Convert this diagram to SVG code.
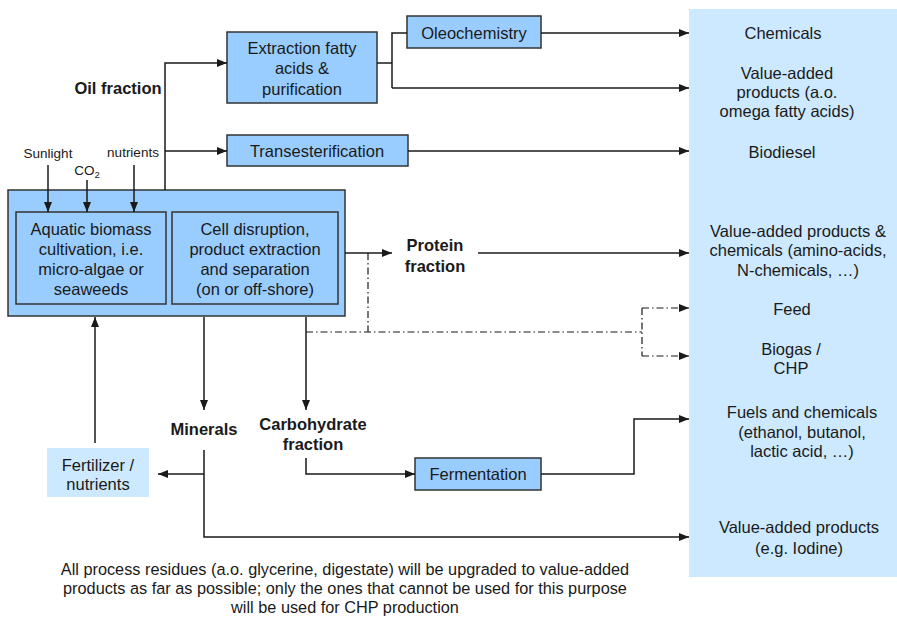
<svg xmlns="http://www.w3.org/2000/svg" width="897" height="618" viewBox="0 0 897 618">
  <style>
    text { font-family: "Liberation Sans", Arial, sans-serif; fill: #1a1a1a; text-anchor: middle; }
    .box { fill: #99ccff; stroke: #333; stroke-width: 1.5; }
    .soft { fill: #cce9ff; stroke: none; }
    .t16 { font-size: 16.5px; }
    .b16 { font-size: 16.5px; font-weight: bold; }
    .t13 { font-size: 13.5px; }
    .t15 { font-size: 16.3px; }
    .ln { fill: none; stroke: #1a1a1a; stroke-width: 1.5; }
    .arr { marker-end: url(#ah); }
    .dd { stroke-dasharray: 7 3 1.5 3; stroke-width: 1.2; }
  </style>
  <defs>
    <marker id="ah" viewBox="0 0 10 8" refX="10" refY="4" markerWidth="10" markerHeight="8" markerUnits="userSpaceOnUse" orient="auto">
      <path d="M0,0 L10,4 L0,8 Z" fill="#1a1a1a"/>
    </marker>
  </defs>

  <!-- product panel -->
  <g id="products">
    <rect class="soft" x="689" y="9" width="208" height="568"/>
    <text class="t16" x="783" y="38.5">Chemicals</text>
    <text class="t16" x="787" y="78.5">Value-added</text>
    <text class="t16" x="787" y="97.5">products (a.o.</text>
    <text class="t16" x="787" y="116.5">omega fatty acids)</text>
    <text class="t16" x="782" y="157.5">Biodiesel</text>
    <text class="t16" x="798" y="236.5">Value-added products &amp;</text>
    <text class="t16" x="798" y="255.5">chemicals (amino-acids,</text>
    <text class="t16" x="798" y="275.5">N-chemicals, …)</text>
    <text class="t16" x="792" y="314.5">Feed</text>
    <text class="t16" x="791" y="354.5">Biogas /</text>
    <text class="t16" x="791" y="373.5">CHP</text>
    <text class="t16" x="802" y="417.5">Fuels and chemicals</text>
    <text class="t16" x="802" y="437.5">(ethanol, butanol,</text>
    <text class="t16" x="802" y="456.5">lactic acid, …)</text>
    <text class="t16" x="799" y="532.5">Value-added products</text>
    <text class="t16" x="799" y="553.5">(e.g. Iodine)</text>
  </g>

  <g id="plant">
    <rect class="box" x="8" y="190" width="337" height="126"/>
  </g>
  <g id="cultivation">
    <rect class="box" x="16" y="212" width="150" height="92"/>
    <text class="t16" x="91" y="234.5">Aquatic biomass</text>
    <text class="t16" x="91" y="254.5">cultivation, i.e.</text>
    <text class="t16" x="91" y="274.5">micro-algae or</text>
    <text class="t16" x="91" y="294.5">seaweeds</text>
  </g>
  <g id="disruption">
    <rect class="box" x="172" y="212" width="166" height="92"/>
    <text class="t16" x="255" y="234.5">Cell disruption,</text>
    <text class="t16" x="255" y="254.5">product extraction</text>
    <text class="t16" x="255" y="274.5">and separation</text>
    <text class="t16" x="255" y="294.5">(on or off-shore)</text>
  </g>
  <g id="extraction">
    <rect class="box" x="227" y="32" width="150" height="71"/>
    <text class="t16" x="302" y="53.5">Extraction fatty</text>
    <text class="t16" x="302" y="73.5">acids &amp;</text>
    <text class="t16" x="302" y="94.5">purification</text>
  </g>
  <g id="oleochemistry">
    <rect class="box" x="407" y="16" width="134" height="32"/>
    <text class="t16" x="474" y="38.5">Oleochemistry</text>
  </g>
  <g id="transesterification">
    <rect class="box" x="227" y="135" width="181" height="31"/>
    <text class="t16" x="317" y="156.5">Transesterification</text>
  </g>
  <g id="fermentation">
    <rect class="box" x="415" y="458" width="126" height="32"/>
    <text class="t16" x="478" y="479.5">Fermentation</text>
  </g>
  <g id="fertilizer">
    <rect class="soft" x="47" y="448" width="102" height="49"/>
    <text class="t16" x="98" y="471">Fertilizer /</text>
    <text class="t16" x="98" y="489.5">nutrients</text>
  </g>

  <!-- connectors -->
  <g id="connectors">
    <!-- inputs to cultivation -->
    <line class="ln arr" x1="48" y1="165" x2="48" y2="212"/>
    <line class="ln arr" x1="87" y1="180" x2="87" y2="212"/>
    <line class="ln arr" x1="134" y1="165" x2="134" y2="212"/>
    <!-- oil fraction -->
    <polyline class="ln arr" points="165,190 165,63 227,63"/>
    <line class="ln arr" x1="165" y1="151" x2="227" y2="151"/>
    <polyline class="ln" points="377,63 392,63"/>
    <polyline class="ln" points="407,33 392,33 392,88"/>
    <line class="ln arr" x1="392" y1="88" x2="689" y2="88"/>
    <line class="ln arr" x1="541" y1="33" x2="689" y2="33"/>
    <line class="ln arr" x1="408" y1="151" x2="689" y2="151"/>
    <!-- protein fraction -->
    <line class="ln arr" x1="345" y1="253" x2="392" y2="253"/>
    <line class="ln arr" x1="478" y1="253" x2="689" y2="253"/>
    <!-- residue streams -->
    <line class="ln dd" x1="368" y1="253" x2="368" y2="332"/>
    <line class="ln dd" x1="306" y1="332" x2="642" y2="332"/>
    <line class="ln dd" x1="642" y1="308" x2="642" y2="356"/>
    <line class="ln dd arr" x1="642" y1="308" x2="689" y2="308"/>
    <line class="ln dd arr" x1="642" y1="356" x2="689" y2="356"/>
    <!-- minerals -->
    <line class="ln arr" x1="204" y1="317" x2="204" y2="410"/>
    <polyline class="ln arr" points="204,450 204,537 689,537"/>
    <line class="ln arr" x1="204" y1="474" x2="158" y2="474"/>
    <!-- carbohydrate fraction -->
    <line class="ln arr" x1="306" y1="317" x2="306" y2="410"/>
    <polyline class="ln arr" points="306,458 306,474 415,474"/>
    <polyline class="ln arr" points="541,474 634,474 634,419 689,419"/>
    <!-- fertilizer return -->
    <line class="ln arr" x1="95" y1="443" x2="95" y2="317"/>
  </g>

  <!-- stream labels -->
  <g id="labels">
    <text class="b16" x="118" y="93.5">Oil fraction</text>
    <text class="b16" x="435" y="250.5">Protein</text>
    <text class="b16" x="435" y="271.5">fraction</text>
    <text class="b16" x="204" y="434.5">Minerals</text>
    <text class="b16" x="313" y="429.5">Carbohydrate</text>
    <text class="b16" x="313" y="449.5">fraction</text>
    <text class="t13" x="48" y="157.5">Sunlight</text>
    <text class="t13" x="87" y="174.5">CO<tspan font-size="9.5" dy="3">2</tspan></text>
    <text class="t13" x="133" y="156.5">nutrients</text>
  </g>

  <g id="note">
    <text class="t15" x="345" y="575">All process residues (a.o. glycerine, digestate) will be upgraded to value-added</text>
    <text class="t15" x="345" y="594">products as far as possible; only the ones that cannot be used for this purpose</text>
    <text class="t15" x="345" y="613">will be used for CHP production</text>
  </g>
</svg>
